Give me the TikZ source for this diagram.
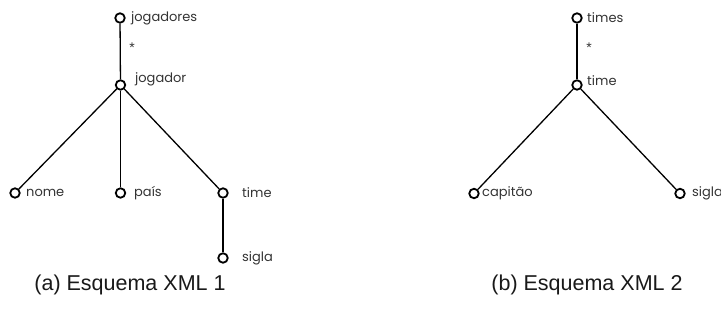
\documentclass[tikz,border=0pt]{standalone}
\usepackage{fontspec}
\setmainfont{Liberation Sans}
\newfontfamily\labelfont{Poppins}
\begin{document}
\begin{tikzpicture}[x=1pt,y=-1pt,
  elem/.style={circle,draw=black,line width=1.8pt,minimum size=9.5pt,inner sep=0pt,fill=white},
  elemlabel/.style={anchor=west,inner sep=0pt,font=\labelfont\fontsize{13}{15}\selectfont,text=black!80},
  manymark/.style={anchor=north,inner sep=0pt,font=\fontsize{14}{16}\selectfont,text=black!80},
  edge/.style={draw=black,line width=1.3pt},
  caption/.style={font=\fontsize{21.5}{25}\selectfont,text=black!90}]
\useasboundingbox (0,0) rectangle (721,326);

% Schema 1: jogadores
\node[elem] (jgs) at (120,18) {};
\node[elem] (jg) at (120.5,85) {};
\node[elem] (nome) at (15,193) {};
\node[elem] (pais) at (120.5,193) {};
\node[elem] (time) at (223,193) {};
\node[elem] (sigla) at (223,258) {};

\draw[edge] (jgs) -- (jg);
\draw[edge] (jg) -- (nome);
\draw[edge] (jg) -- (pais);
\draw[edge] (jg) -- (time);
\draw[edge] (time) -- (sigla);

\node[elemlabel] (ljgs) at (131,18) {jogadores};
\node[elemlabel] (ljg) at (135,79) {jogador};
\node[elemlabel] (lnome) at (26,193) {nome};
\node[elemlabel] (lpais) at (134,193) {país};
\node[elemlabel] (ltime) at (242,193) {time};
\node[elemlabel] (lsigla) at (242,258) {sigla};
\node[manymark] (star1) at (132,43) {*};

\node[caption] (capa) at (130,285) {(a) Esquema XML 1};

% Schema 2: times
\node[elem] (tms) at (577,18) {};
\node[elem] (tm) at (577,85) {};
\node[elem] (cap) at (474,193.5) {};
\node[elem] (sg) at (680,193.5) {};

\draw[edge] (tms) -- (tm);
\draw[edge] (tm) -- (cap);
\draw[edge] (tm) -- (sg);

\node[elemlabel] (ltms) at (587,18) {times};
\node[elemlabel] (ltm) at (587,81) {time};
\node[elemlabel] (lcap) at (482,193.5) {capitão};
\node[elemlabel] (lsg) at (692,193.5) {sigla};
\node[manymark] (star2) at (589,43) {*};

\node[caption] (capb) at (587,285) {(b) Esquema XML 2};
\end{tikzpicture}
\end{document}
